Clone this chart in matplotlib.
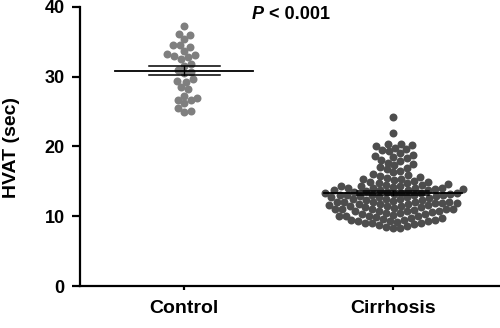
import numpy as np
import matplotlib
matplotlib.use("Agg")
import matplotlib.pyplot as plt
import matplotlib.transforms as mtransforms

plt.rcParams['font.family'] = ['Liberation Sans', 'DejaVu Sans']
plt.rcParams['font.weight'] = 'bold'

groups = ['Control', 'Cirrhosis']

# HVAT values (seconds)
control = [37.2, 36.1, 36.0, 35.4, 34.6, 34.5, 34.3, 33.7, 33.3, 33.1, 33.0,
           32.8, 32.5, 31.8, 31.6, 31.0, 30.7, 30.5, 29.7, 29.4, 29.2, 28.5,
           28.2, 27.3, 27.0, 26.7, 26.6, 26.2, 25.5, 25.1, 25.0]

cirrhosis = [24.2, 21.9,
             20.4, 20.3, 20.2, 20.1,
             19.8, 19.6, 19.5, 19.3, 19.0,
             18.8, 18.6, 18.5, 18.3, 18.1,
             17.9, 17.7, 17.5, 17.3, 17.1,
             16.9, 16.7, 16.5, 16.3, 16.1,
             15.9, 15.8, 15.6, 15.5, 15.4, 15.3, 15.2, 15.1,
             14.9, 14.9, 14.8, 14.7, 14.6, 14.5, 14.5, 14.4, 14.3, 14.3, 14.2,
             14.1, 14.1, 14.0, 14.0,
             13.9, 13.9, 13.8, 13.8, 13.7, 13.7, 13.6, 13.5, 13.5, 13.4, 13.4,
             13.3, 13.3, 13.2, 13.2, 13.1, 13.1, 13.0, 13.0, 13.0,
             12.9, 12.9, 12.8, 12.7, 12.7, 12.6, 12.5, 12.5, 12.4, 12.3, 12.3,
             12.2, 12.1, 12.1, 12.0, 12.0, 12.0,
             11.9, 11.9, 11.9, 11.8, 11.8, 11.7, 11.6, 11.6, 11.5, 11.4, 11.4,
             11.3, 11.3, 11.2, 11.1, 11.1, 11.0, 11.0, 11.0,
             10.9, 10.8, 10.8, 10.7, 10.7, 10.6, 10.5, 10.4, 10.3, 10.3, 10.2,
             10.1, 10.1, 10.0, 10.0,
             9.9, 9.8, 9.7, 9.6, 9.5, 9.4, 9.4, 9.3, 9.3, 9.3, 9.2, 9.1, 9.0, 9.0,
             8.9, 8.7, 8.6, 8.4, 8.3, 8.3]

colors = ['#7f7f7f', '#4d4d4d']


def swarm_offsets(vals, ax, gap=7.0):
    # greedy beeswarm in pixel space, dots may overlap a little (like prism)
    tr = ax.transData
    ys = np.array([tr.transform((0, v))[1] for v in vals])
    xunit = tr.transform((1, 0))[0] - tr.transform((0, 0))[0]
    steps = np.arange(0, 150, 0.5)
    cand = np.ravel(np.column_stack([steps, -steps]))[1:]
    placed_x, placed_y = [], []
    out = np.zeros(len(vals))
    for k in np.argsort(ys):
        y = ys[k]
        px = np.array(placed_x)
        py = np.array(placed_y)
        for c in cand:
            if len(px) == 0 or np.all((px - c) ** 2 + (py - y) ** 2 >= gap ** 2):
                break
        placed_x.append(c)
        placed_y.append(y)
        out[k] = c / xunit
    return out


fig = plt.figure(figsize=(5.0, 3.28), dpi=100)
ax = fig.add_axes([0.16, 0.128, 0.84, 0.851])
ax.set_xlim(-0.498, 1.512)
ax.set_ylim(0, 40)

for i, vals in enumerate([control, cirrhosis]):
    xoff = swarm_offsets(vals, ax)
    ax.scatter(i + xoff, vals, s=33, color=colors[i], linewidths=0, zorder=3)

# mean line + SEM bars
for i, vals in enumerate([control, cirrhosis]):
    v = np.array(vals)
    m = v.mean()
    sem = v.std(ddof=1) / np.sqrt(len(v))
    ax.plot([i - 0.33, i + 0.33], [m, m], color='black', lw=1.3, zorder=5)
    ax.plot([i - 0.17, i + 0.17], [m + sem, m + sem], color='black', lw=1.1, zorder=5)
    ax.plot([i - 0.17, i + 0.17], [m - sem, m - sem], color='black', lw=1.1, zorder=5)
    ax.plot([i, i], [m - sem, m + sem], color='black', lw=1.0, zorder=5)

ax.set_xticks([0, 1])
ax.set_xticklabels(groups)
ax.set_yticks([0, 10, 20, 30, 40])
ax.spines['top'].set_visible(False)
ax.spines['right'].set_visible(False)
ax.spines['left'].set_linewidth(1.6)
ax.spines['bottom'].set_linewidth(1.6)
ax.tick_params(axis='y', length=6, width=1.6, pad=5, labelsize=13)
ax.tick_params(axis='x', length=3, width=1.6, pad=7, labelsize=14)
fig.text(12 / 500, 1 - 147 / 328, 'HVAT (sec)', rotation=90, fontsize=14,
         fontweight='bold', ha='center', va='center')

# "P < 0.001" with italic P
t = ax.text(0.325, 38.9, 'P', fontsize=13, fontweight='bold', style='italic',
            va='center', ha='left')
fig.canvas.draw()
w = t.get_window_extent().width
ax.text(0.325, 38.9, ' < 0.001', fontsize=13, fontweight='bold', va='center',
        ha='left', transform=mtransforms.offset_copy(ax.transData, fig=fig,
                                                     x=w, y=0, units='dots'))

plt.savefig('out.png', dpi=100)
